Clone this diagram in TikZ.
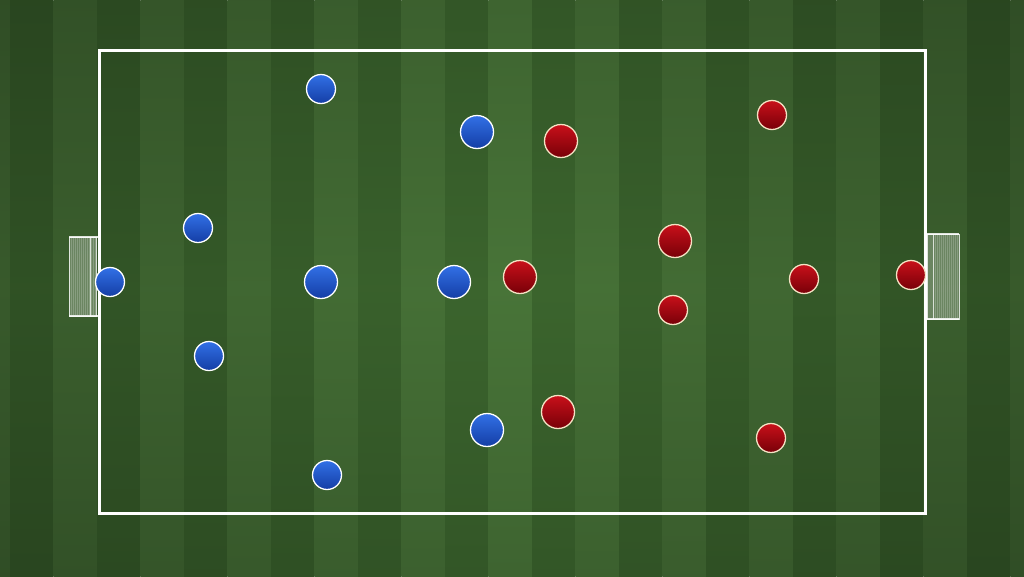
\documentclass[tikz,border=0pt]{standalone}
\usetikzlibrary{calc}
\definecolor{gdark}{RGB}{60,102,46}
\definecolor{glight}{RGB}{72,116,56}
\definecolor{bluetop}{RGB}{50,112,230}
\definecolor{bluebot}{RGB}{20,62,165}
\definecolor{redtop}{RGB}{200,16,26}
\definecolor{redbot}{RGB}{120,0,8}
\definecolor{cream}{RGB}{245,226,196}
\tikzset{
  bplayer/.style={circle, draw=white, line width=1.3pt, top color=bluetop, bottom color=bluebot, inner sep=0pt},
  rplayer/.style={circle, draw=cream, line width=1.3pt, top color=redtop, bottom color=redbot, inner sep=0pt},
  big/.style={minimum size=33pt},
  small/.style={minimum size=29pt},
  pitchline/.style={draw=white, line width=3pt, line join=miter},
  goalnet/.style={fill=white, fill opacity=0.25, draw=white, draw opacity=0.8, line width=1pt},
  netline/.style={draw=white, opacity=0.2, line width=0.5pt}
}
\begin{document}
\begin{tikzpicture}[x=1pt,y=-1pt]
\useasboundingbox (0,0) rectangle (1024,576);
% grass stripes
\foreach \k in {-1,...,23}{
  \pgfmathsetmacro\xa{10+43.5*\k}
  \pgfmathsetmacro\xb{\xa+43.6}
  \pgfmathsetmacro\pc{100-22*abs(\xa+21.75-512)/512}
  \pgfmathsetmacro\qc{\pc*0.86}
  \pgfmathtruncatemacro\pr{mod(\k+2,2)}
  \ifnum\pr=0 \colorlet{stripebase}{gdark}\else\colorlet{stripebase}{glight}\fi
  \colorlet{stripemid}{stripebase!\pc!black}
  \colorlet{stripeedge}{stripebase!\qc!black}
  \shade[top color=stripeedge, bottom color=stripeedge, middle color=stripemid] (\xa,0) rectangle (\xb,576);
}
% goals
\path[goalnet] (69,237) rectangle (96,316);
\foreach \gx in {71,73,...,95}{ \draw[netline] (\gx,238) -- (\gx,315); }
\draw[white, opacity=0.75, line width=1pt] (90,237) -- (90,316);
\draw[white, opacity=0.85, line width=1.2pt] (69,237) -- (99,237);
\draw[white, opacity=0.85, line width=1.2pt] (69,316) -- (99,316);
\path[goalnet] (927,234) rectangle (959,319);
\foreach \gx in {935,937,...,958}{ \draw[netline] (\gx,235) -- (\gx,318); }
\draw[white, opacity=0.75, line width=1pt] (933,234) -- (933,319);
\draw[white, opacity=0.85, line width=1.2pt] (925,234) -- (959,234);
\draw[white, opacity=0.85, line width=1.2pt] (925,319) -- (959,319);
% pitch
\draw[pitchline] (99,50) rectangle (925,513);
% blue team
\node[bplayer, small] (b1) at (110,282) {};
\node[bplayer, small] (b2) at (321,89) {};
\node[bplayer, big]   (b3) at (477,132) {};
\node[bplayer, small] (b4) at (198,228) {};
\node[bplayer, big]   (b5) at (321,282) {};
\node[bplayer, big]   (b6) at (454,282) {};
\node[bplayer, small] (b7) at (209,356) {};
\node[bplayer, big]   (b8) at (487,430) {};
\node[bplayer, small] (b9) at (327,475) {};
% red team
\node[rplayer, big]   (r1) at (561,141) {};
\node[rplayer, small] (r2) at (772,115) {};
\node[rplayer, big]   (r3) at (675,241) {};
\node[rplayer, big]   (r4) at (520,277) {};
\node[rplayer, small] (r5) at (804,279) {};
\node[rplayer, small] (r6) at (911,275) {};
\node[rplayer, small] (r7) at (673,310) {};
\node[rplayer, big]   (r8) at (558,412) {};
\node[rplayer, small] (r9) at (771,438) {};
\end{tikzpicture}
\end{document}
